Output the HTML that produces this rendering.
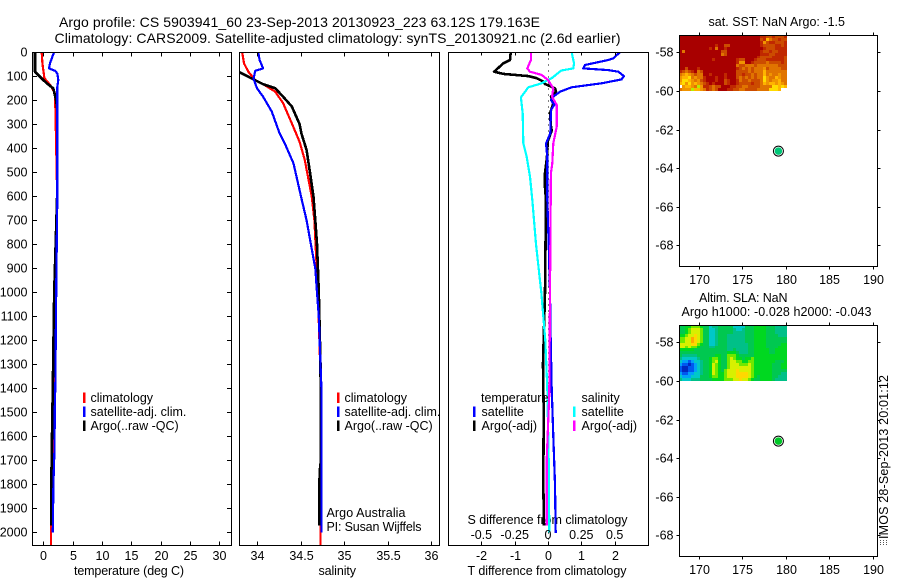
<!DOCTYPE html>
<html lang="en">
<head>
<meta charset="utf-8">
<title>Argo profile chart</title>
<style>
html,body{margin:0;padding:0;background:#fff;}
svg{display:block;}
text{font-family:"Liberation Sans",sans-serif;font-size:12.5px;fill:#000;}
</style>
</head>
<body>
<svg id="chart" xmlns="http://www.w3.org/2000/svg" width="900" height="580" viewBox="0 0 900 580">
<text x="59" y="27" font-size="14" style="font-size:14px" textLength="481">Argo profile: CS 5903941_60 23-Sep-2013 20130923_223 63.12S 179.163E</text>
<text x="54.5" y="43" style="font-size:14px" textLength="566">Climatology: CARS2009. Satellite-adjusted climatology: synTS_20130921.nc (2.6d earlier)</text>
<text x="74" y="575" textLength="110">temperature (deg C)</text>
<text x="318.5" y="575" textLength="37.5">salinity</text>
<text x="467.5" y="524" textLength="160">S difference from climatology</text>
<text x="467.5" y="575" textLength="159">T difference from climatology</text>
<text x="708.5" y="26" textLength="136.5">sat. SST: NaN Argo: -1.5</text>
<text x="699" y="302" textLength="88.5">Altim. SLA: NaN</text>
<text x="681.5" y="316" textLength="190">Argo h1000: -0.028 h2000: -0.043</text>
<text x="326.5" y="517" textLength="79">Argo Australia</text>
<text x="326.5" y="531" textLength="95">PI: Susan Wijffels</text>
<text transform="translate(888,539) rotate(-90)" textLength="164">IMOS 28-Sep-2013 20:01:12</text>
<g stroke="#555" stroke-width="1" stroke-dasharray="1 1" shape-rendering="crispEdges">
<line x1="880.5" y1="540" x2="880.5" y2="545"/><line x1="883.5" y1="540" x2="883.5" y2="545"/><line x1="886.5" y1="540" x2="886.5" y2="545"/>
</g>
<g id="marks"></g>
</svg>
<script>
// ---- temperature panel data ----
const tempClimDepth = [0, 46, 108, 136, 171, 275, 600, 1000, 1500, 2000, 2055];
const tempClimValue = [-0.28, -0.16, 0.18, 1.15, 2.0, 2.1, 2.36, 2.1, 1.75, 1.3, 1.3];
const tempSatDepth = [0, 46, 67, 77, 88, 116, 144, 600, 1000, 1400, 1450, 1650, 1800, 2000];
const tempSatValue = [1.82, 1.14, 0.97, 1.99, 2.39, 2.56, 2.39, 2.39, 2.2, 2.05, 1.98, 1.9, 1.72, 1.62];
const tempArgoDepth = [0, 81, 95, 129, 150, 198, 240, 600, 1000, 1400, 1600, 1800, 1972];
const tempArgoValue = [-1.41, -1.41, -0.85, 0.58, 1.7, 2.16, 2.39, 2.35, 1.85, 1.62, 1.48, 1.37, 1.37];

// ---- salinity panel data ----
const salClimDepth = [0, 46, 81, 116, 133, 164, 212, 296, 373, 449, 602, 700, 1000, 1400, 2000, 2055];
const salClimValue = [33.83, 33.85, 33.90, 33.98, 34.07, 34.21, 34.30, 34.40, 34.49, 34.55, 34.63, 34.66, 34.70, 34.735, 34.73, 34.73];
const salArgoDepth = [83, 113, 133, 150, 185, 226, 299, 338, 407, 504, 602, 700, 800, 1000, 1300, 1700, 1750, 1972];
const salArgoValue = [33.80, 33.96, 34.07, 34.21, 34.30, 34.40, 34.49, 34.51, 34.57, 34.61, 34.65, 34.67, 34.69, 34.71, 34.73, 34.735, 34.72, 34.715];
const salSatDepth = [0, 32, 67, 77, 110, 150, 185, 247, 338, 380, 463, 608, 700, 800, 900, 1000, 1100, 1300, 1400, 2000];
const salSatValue = [34.015, 34.03, 34.07, 33.98, 33.96, 34.0, 34.07, 34.17, 34.26, 34.32, 34.42, 34.51, 34.57, 34.62, 34.67, 34.69, 34.71, 34.73, 34.74, 34.74];

// ---- difference panel data ----
const diffTArgoDepth = [0, 32, 46, 81, 90, 99, 108, 122, 132, 150, 164, 185, 212, 254, 310, 326, 372, 435, 504, 546, 615, 1000, 1300, 1500, 1800, 1972];
const diffTArgoValue = [-1.12, -1.14, -1.34, -1.62, -1.34, -0.59, -0.34, -0.14, -0.09, 0.21, 0.24, 0.09, 0.16, 0.06, 0.09, 0.11, -0.01, -0.03, -0.09, -0.10, -0.06, -0.09, -0.15, -0.13, -0.14, -0.12];
const diffTSatDepth = [0, 25, 32, 53, 67, 74, 81, 99, 113, 129, 146, 164, 185, 199, 219, 240, 338, 380, 435, 615, 800, 1000, 1200, 1400, 1600, 1800, 2003];
const diffTSatValue = [2.16, 1.96, 1.81, 1.11, 1.06, 1.81, 2.11, 2.28, 2.21, 1.61, 0.71, 0.36, 0.16, 0.09, 0.19, 0.09, 0.07, -0.06, -0.02, -0.02, 0.02, 0.06, 0.08, 0.11, 0.16, 0.21, 0.23];
const diffSSatDepth = [0, 46, 67, 76, 108, 129, 146, 188, 254, 379, 435, 518, 615, 800, 1000, 1200, 1400, 1700, 2000];
const diffSSatValue = [0.178, 0.195, 0.19, 0.10, 0.028, -0.048, -0.148, -0.203, -0.19, -0.185, -0.16, -0.135, -0.118, -0.09, -0.05, -0.02, -0.005, 0.005, 0.01];
const diffSArgoDepth = [0, 32, 67, 81, 94, 115, 150, 185, 219, 310, 379, 462, 504, 615, 1000, 1420, 1700, 1972];
const diffSArgoValue = [-0.128, -0.128, -0.155, -0.135, -0.048, 0, 0.04, 0.03, 0.065, 0.065, 0.04, 0.032, 0.022, 0.02, 0.015, 0.01, -0.01, -0.01];

// ---- tick labels ----
const depthTicks = [0,100,200,300,400,500,600,700,800,900,1000,1100,1200,1300,1400,1500,1600,1700,1800,1900,2000];
const tempTicks = [0,5,10,15,20,25,30];
const salTicks = [34,34.5,35,35.5,36];
const diffTTicks = [-2,-1,0,1,2];
const diffSTicks = [-0.5,-0.25,0,0.25,0.5];
const lonTicks = [170,175,180,185,190];
const latTicks = [-58,-60,-62,-64,-66,-68];

// ---- map data: each character is a colour-level for one grid cell ----
const sstRows = [
"000000000000000000000000000112212221",
"000000000000000000000000000215322122",
"000000000000000000000000000142112221",
"000000000000100220000000000122221121",
"000000000010300100000000000012221111",
"030000000000002200000000000122122111",
"000000000000003200000000000111221111",
"000000000000000000000000001222211112",
"000000000001000000012200012221111112",
"000000000000000000014400122223222212",
"000000000000000000032233323333333222",
"002000100000000000012323233342333322",
"123210320000000000022223233353333333",
"345432330010000100022122323353433433",
"455634331000100100023232323364335433",
"466543421000100210013223222364344533",
"564645432101000210012222122354554543",
"w45543741123220001122332222333366565",
"3444755431232000112233222233336665ww"
];
const slaRows = [
"556677765534455555333355566665554444",
"556788875533455555433455566665554444",
"556788875533455555444455566665554444",
"667889875533455544444455566665555444",
"7788a9875533455544444455566665555555",
"7788a9875533455544444455566665555555",
"888899765533455544444445566665555566",
"887877655544555544444445566665555666",
"666665555555555544544445566666556666",
"555555555555555566654445566666556666",
"544444555555665577765555566666666666",
"433333455567765578766566766666666666",
"322123345567865578877667766666665556",
"211012345568765578887778766666655566",
"100112345568765578888888766666655566",
"100112345568765788898888766666655555",
"211223345568766788899998766666655544",
"322233355567766788899998765666655444",
"433344455556666777889887655666654444"
];
const argoLon = 179.163;
const argoLat = -63.12;

// ---- axis functions ----
function yDepth(d){ return 52.3 + 0.24 * d; }
function xTemp(t){ return 43.3 + 5.87 * t; }
function xSal(s){ return 257 + 87 * (s - 34); }
function xDiffT(t){ return 548 + 33.3 * t; }
function xDiffS(s){ return 548 + 133.3 * s; }
function xLon(lon){ return 698.5 + 8.72 * (lon - 170); }
function ySst(lat){ return 52.3 + 19.3 * (-58 - lat); }
function ySla(lat){ return 342.3 + 19.3 * (-58 - lat); }

const NS = 'http://www.w3.org/2000/svg';
const marks = document.getElementById('marks');
const BOX_T = 52.5, BOX_B = 545.5;

function make(tag, attrs){
  const el = document.createElementNS(NS, tag);
  for (const k in attrs) el.setAttribute(k, attrs[k]);
  return el;
}
function addText(name, str, x, y, anchor){
  const el = make('text', {x: x, y: y, 'text-anchor': anchor || 'start'});
  el.textContent = str;
  
  
  marks.appendChild(el);
  return el;
}
function addLine(name, x1, y1, x2, y2){
  const el = make('line', {x1: x1, y1: y1, x2: x2, y2: y2, stroke: '#000', 'stroke-width': 1, 'shape-rendering': 'crispEdges'});
  
  
  marks.appendChild(el);
  return el;
}
function addFrame(name, x0, y0, x1, y1){
  const el = make('rect', {x: x0, y: y0, width: x1 - x0, height: y1 - y0, fill: 'none', stroke: '#000', 'stroke-width': 1, 'shape-rendering': 'crispEdges'});
  
  
  marks.appendChild(el);
}
function addSeries(name, depths, values, xFn, color, width, clipId){
  const pts = depths.map(function(d, i){ return xFn(values[i]).toFixed(1) + ',' + yDepth(d).toFixed(1); }).join(' ');
  const el = make('polyline', {points: pts, fill: 'none', stroke: color, 'stroke-width': width, 'stroke-linejoin': 'round', 'shape-rendering': 'crispEdges'});
  if (clipId) el.setAttribute('clip-path', 'url(#' + clipId + ')');
  
  
  marks.appendChild(el);
}
function addLegendBar(name, x, y, color){
  const el = make('rect', {x: x, y: y, width: 2.5, height: 10.5, fill: color, 'shape-rendering': 'crispEdges'});
  
  
  marks.appendChild(el);
}

// clip paths for profile panels
const defs = make('defs', {});
[['clip-temp', 32.5, 231.5], ['clip-sal', 239.5, 439.5], ['clip-diff', 448.5, 648.5]].forEach(function(c){
  const cp = make('clipPath', {id: c[0]});
  cp.appendChild(make('rect', {x: c[1], y: BOX_T, width: c[2] - c[1], height: BOX_B - BOX_T}));
  defs.appendChild(cp);
});
marks.appendChild(defs);

const BLACK_W = 2.6, COLOR_W = 2.2;

// ---- temperature panel ----
addSeries('temperature-climatology-line', tempClimDepth, tempClimValue, xTemp, '#ff0000', COLOR_W, 'clip-temp');
addSeries('temperature-argo-line', tempArgoDepth, tempArgoValue, xTemp, '#000000', BLACK_W, 'clip-temp');
addSeries('temperature-satellite-line', tempSatDepth, tempSatValue, xTemp, '#0000ff', COLOR_W, 'clip-temp');
addFrame('temperature-panel-frame', 32.5, BOX_T, 231.5, BOX_B);
depthTicks.forEach(function(d){
  const y = Math.round(yDepth(d)) + 0.5;
  addLine('temperature-y-tick-left', 32.5, y, 37, y);
  addLine('temperature-y-tick-right', 227, y, 231.5, y);
  addText('depth-tick-label', String(d), 27.5, y + 4, 'end');
});
tempTicks.forEach(function(t){
  const x = Math.round(xTemp(t)) + 0.5;
  addLine('temperature-x-tick-top', x, BOX_T, x, BOX_T + 4);
  addLine('temperature-x-tick-bottom', x, BOX_B - 4, x, BOX_B);
  addText('temperature-tick-label', String(t), x, 560, 'middle');
});

// ---- salinity panel ----
addSeries('salinity-climatology-line', salClimDepth, salClimValue, xSal, '#ff0000', COLOR_W, 'clip-sal');
addSeries('salinity-argo-line', salArgoDepth, salArgoValue, xSal, '#000000', BLACK_W, 'clip-sal');
addSeries('salinity-satellite-line', salSatDepth, salSatValue, xSal, '#0000ff', COLOR_W, 'clip-sal');
addFrame('salinity-panel-frame', 239.5, BOX_T, 439.5, BOX_B);
salTicks.forEach(function(s){
  const x = Math.round(xSal(s)) + 0.5;
  addLine('salinity-x-tick-top', x, BOX_T, x, BOX_T + 4);
  addLine('salinity-x-tick-bottom', x, BOX_B - 4, x, BOX_B);
  addText('salinity-tick-label', String(s), x, 560, 'middle');
});

// ---- difference panel ----
const zeroLine = make('line', {x1: 548.5, y1: BOX_T, x2: 548.5, y2: BOX_B, stroke: '#000', 'stroke-width': 1, 'stroke-dasharray': '1 5', 'shape-rendering': 'crispEdges'});


marks.appendChild(zeroLine);
addSeries('t-difference-argo-line', diffTArgoDepth, diffTArgoValue, xDiffT, '#000000', BLACK_W, 'clip-diff');
addSeries('t-difference-satellite-line', diffTSatDepth, diffTSatValue, xDiffT, '#0000ff', COLOR_W, 'clip-diff');
addSeries('s-difference-satellite-line', diffSSatDepth, diffSSatValue, xDiffS, '#00ffff', COLOR_W, 'clip-diff');
addSeries('s-difference-argo-line', diffSArgoDepth, diffSArgoValue, xDiffS, '#ff00ff', COLOR_W, 'clip-diff');
addFrame('difference-panel-frame', 448.5, BOX_T, 648.5, BOX_B);
diffTTicks.forEach(function(t){
  const x = Math.round(xDiffT(t)) + 0.5;
  addLine('t-difference-x-tick-top', x, BOX_T, x, BOX_T + 3);
  addLine('t-difference-x-tick-bottom', x, BOX_B - 4, x, BOX_B);
  addText('t-difference-tick-label', String(t), x, 560, 'middle');
});
diffSTicks.forEach(function(s){
  addText('s-difference-tick-label', String(s), xDiffS(s), 539, 'middle');
});

// ---- legends ----
const legendRowsY = [402, 416, 430];
const climLegendLabels = ['climatology', 'satellite-adj. clim.', 'Argo(..raw -QC)'];
const climLegendColors = ['#ff0000', '#0000ff', '#000000'];
climLegendLabels.forEach(function(label, i){
  addLegendBar('temperature-legend-swatch', 83, legendRowsY[i] - 9.5, climLegendColors[i]);
  addText('temperature-legend-label', label, 90.5, legendRowsY[i]);
  addLegendBar('salinity-legend-swatch', 337, legendRowsY[i] - 9.5, climLegendColors[i]);
  addText('salinity-legend-label', label, 344.5, legendRowsY[i]);
});
addText('difference-legend-temperature-heading', 'temperature', 481, legendRowsY[0]);
addText('difference-legend-salinity-heading', 'salinity', 581.5, legendRowsY[0]);
addLegendBar('difference-legend-swatch', 473, legendRowsY[1] - 9.5, '#0000ff');
addText('difference-legend-label', 'satellite', 481.5, legendRowsY[1]);
addLegendBar('difference-legend-swatch', 473, legendRowsY[2] - 9.5, '#000000');
addText('difference-legend-label', 'Argo(-adj)', 481.5, legendRowsY[2]);
addLegendBar('difference-legend-swatch', 573, legendRowsY[1] - 9.5, '#00ffff');
addText('difference-legend-label', 'satellite', 581.5, legendRowsY[1]);
addLegendBar('difference-legend-swatch', 573, legendRowsY[2] - 9.5, '#ff00ff');
addText('difference-legend-label', 'Argo(-adj)', 581.5, legendRowsY[2]);

// ---- maps ----
const sstColors = {'0':'#a80000','1':'#c02800','2':'#cc4c00','3':'#e07400','4':'#f09400','5':'#ffb400','6':'#ffdc00','7':'#b4f000','w':'#ffffff'};
const slaColors = {'0':'#0028c0','1':'#0058f0','2':'#00a0f8','3':'#00c8c8','4':'#00c088','5':'#00c850','6':'#00d820','7':'#70e800','8':'#d8f000','9':'#ffd800','a':'#ffa800'};
const LON0 = 167.8, LAT0 = -57.1, LON_STEP = 0.344, LAT_STEP = 0.1525;

function drawMap(prefix, rows, colors, yFn, top, bottom, markerColor){
  rows.forEach(function(row, r){
    row.split('').forEach(function(level, c){
      const x0 = Math.round(xLon(LON0 + c * LON_STEP));
      const x1 = Math.round(xLon(LON0 + (c + 1) * LON_STEP));
      const y0 = Math.round(yFn(LAT0 - r * LAT_STEP));
      const y1 = Math.round(yFn(LAT0 - (r + 1) * LAT_STEP));
      const cell = make('rect', {x: x0, y: y0, width: x1 - x0, height: y1 - y0, fill: colors[level], 'shape-rendering': 'crispEdges'});
      
      
      marks.appendChild(cell);
    });
  });
  addFrame(prefix + '-map-frame', 679.5, top, 877.5, bottom);
  lonTicks.forEach(function(lon){
    const x = Math.round(xLon(lon)) + 0.5;
    addLine(prefix + '-lon-tick-top', x, top - 3, x, top);
    addLine(prefix + '-lon-tick-bottom', x, bottom, x, bottom + 3);
    addText(prefix + '-lon-tick-label', String(lon), x, bottom + 17.5, 'middle');
  });
  latTicks.forEach(function(lat){
    const y = Math.round(yFn(lat)) + 0.5;
    addLine(prefix + '-lat-tick-left', 676.5, y, 679.5, y);
    addLine(prefix + '-lat-tick-right', 877.5, y, 880.5, y);
    addText(prefix + '-lat-tick-label', String(lat), 673.5, y + 4, 'end');
  });
  const outer = make('circle', {cx: xLon(argoLon), cy: yFn(argoLat), r: 5, fill: '#fff', stroke: '#000', 'stroke-width': 1});
  
  
  marks.appendChild(outer);
  const inner = make('circle', {cx: xLon(argoLon), cy: yFn(argoLat), r: 3.8, fill: markerColor});
  
  
  marks.appendChild(inner);
}
drawMap('sst', sstRows, sstColors, ySst, 35.5, 266.5, '#00c878');
drawMap('sla', slaRows, slaColors, ySla, 325.5, 556.5, '#00c828');
</script>
</body>
</html>
